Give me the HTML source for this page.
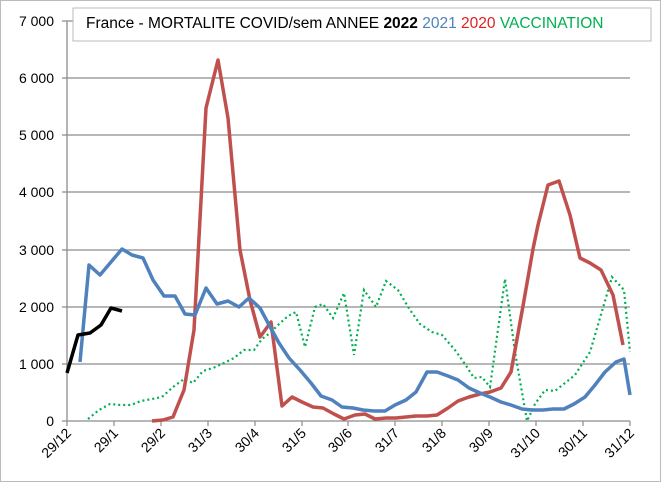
<!DOCTYPE html>
<html><head><meta charset="utf-8"><style>
body{margin:0;background:#fff;}
svg{display:block;font-family:"Liberation Sans",Arial,sans-serif;}
</style></head><body>
<svg width="661" height="482" viewBox="0 0 661 482" xmlns="http://www.w3.org/2000/svg">
<rect x="0.5" y="0.5" width="660" height="481" fill="#fff" stroke="#bbb"/>
<g stroke="#8c8c8c" stroke-width="1.3">
<line x1="62" y1="21" x2="630" y2="21"/>
<line x1="62" y1="78" x2="630" y2="78"/>
<line x1="62" y1="135" x2="630" y2="135"/>
<line x1="62" y1="192" x2="630" y2="192"/>
<line x1="62" y1="250" x2="630" y2="250"/>
<line x1="62" y1="307" x2="630" y2="307"/>
<line x1="62" y1="364" x2="630" y2="364"/>
<line x1="62" y1="421" x2="630" y2="421"/>
<line x1="67" y1="21" x2="67" y2="421"/>
</g>
<g stroke="#8c8c8c" stroke-width="1.2">
<line x1="67" y1="421" x2="67" y2="426"/><line x1="114" y1="421" x2="114" y2="426"/><line x1="161" y1="421" x2="161" y2="426"/><line x1="208" y1="421" x2="208" y2="426"/><line x1="255" y1="421" x2="255" y2="426"/><line x1="302" y1="421" x2="302" y2="426"/><line x1="348" y1="421" x2="348" y2="426"/><line x1="395" y1="421" x2="395" y2="426"/><line x1="442" y1="421" x2="442" y2="426"/><line x1="489" y1="421" x2="489" y2="426"/><line x1="536" y1="421" x2="536" y2="426"/><line x1="583" y1="421" x2="583" y2="426"/><line x1="630" y1="421" x2="630" y2="426"/>
</g>
<g font-size="14" fill="#000" text-anchor="end">
<text x="54" y="26">7 000</text><text x="54" y="83">6 000</text><text x="54" y="140">5 000</text><text x="54" y="197">4 000</text><text x="54" y="255">3 000</text><text x="54" y="312">2 000</text><text x="54" y="369">1 000</text><text x="54" y="426">0</text>
</g>
<g font-size="14" fill="#000" text-anchor="end">
<text transform="translate(72,434) rotate(-45)">29/12</text>
<text transform="translate(119,434) rotate(-45)">29/1</text>
<text transform="translate(166,434) rotate(-45)">29/2</text>
<text transform="translate(213,434) rotate(-45)">31/3</text>
<text transform="translate(260,434) rotate(-45)">30/4</text>
<text transform="translate(307,434) rotate(-45)">31/5</text>
<text transform="translate(353,434) rotate(-45)">30/6</text>
<text transform="translate(400,434) rotate(-45)">31/7</text>
<text transform="translate(447,434) rotate(-45)">31/8</text>
<text transform="translate(494,434) rotate(-45)">30/9</text>
<text transform="translate(541,434) rotate(-45)">31/10</text>
<text transform="translate(588,434) rotate(-45)">30/11</text>
<text transform="translate(635,434) rotate(-45)">31/12</text>
</g>
<polyline fill="none" stroke="#00b050" stroke-width="2.2" stroke-dasharray="2,3" points="88,419 99,410 110,404 120,405 131,405 141,401 152,399 162,397 173,387 184,379 193,383 203,371 213,368 224,363 234,358 244,350 254,350 262,339 270,333 278,325 288,316 296,312 305,347 315,307 323,304 333,318 344,293 354,355 364,290 376,307 386,281 398,290 410,310 420,324 432,332 442,335 455,350 465,364 474,378 482,377 490,387 505,279 515,352 527,421 535,404 545,390 555,391 575,375 590,352 600,318 612,277 624,290 630,352"/>
<polyline fill="none" stroke="#c0504d" stroke-width="3.5" stroke-linejoin="round" points="152,421 163,420 173,417 184,390 194,330 206,108 218,60 228,118 240,250 250,300 260,337 271,322 282,406 292,397 302,402 313,407 323,408 334,414 344,419 355,415 365,414 375,419 386,418 396,418 406,417 416,416 427,416 437,415 448,408 458,401 469,397 480,394 490,392 501,388 511,372 523,306 533,249 538,225 548,185 559,181 570,215 580,258 590,263 601,270 613,295 623,345"/>
<polyline fill="none" stroke="#4f81bd" stroke-width="3.5" stroke-linejoin="round" points="80,362 89,265 100,275 111,262 122,249 132,255 143,258 153,280 164,296 175,296 185,314 195,315 206,288 217,304 228,301 239,307 249,298 260,308 268,323 279,343 289,358 300,370 311,383 321,396 332,400 342,407 353,408 363,410 374,411 385,411 395,405 406,400 416,392 427,372 437,372 448,376 458,380 469,388 480,393 490,397 501,402 511,405 522,409 532,410 543,410 553,409 564,409 574,404 585,397 595,385 605,372 616,362 624,359 630,395"/>
<polyline fill="none" stroke="#000" stroke-width="3.5" stroke-linejoin="round" points="67,373 78,335 90,333 101,325 111,308 122,311"/>
<rect x="73" y="8" width="578" height="33" fill="#fff" stroke="#bbb"/>
<text x="86" y="28" font-size="15.5" fill="#000">France -  MORTALITE COVID/sem ANNEE <tspan font-weight="bold">2022</tspan> <tspan fill="#4f81bd">2021</tspan> <tspan fill="#e02020">2020</tspan> <tspan fill="#00b050">VACCINATION</tspan></text>
</svg>
</body></html>
